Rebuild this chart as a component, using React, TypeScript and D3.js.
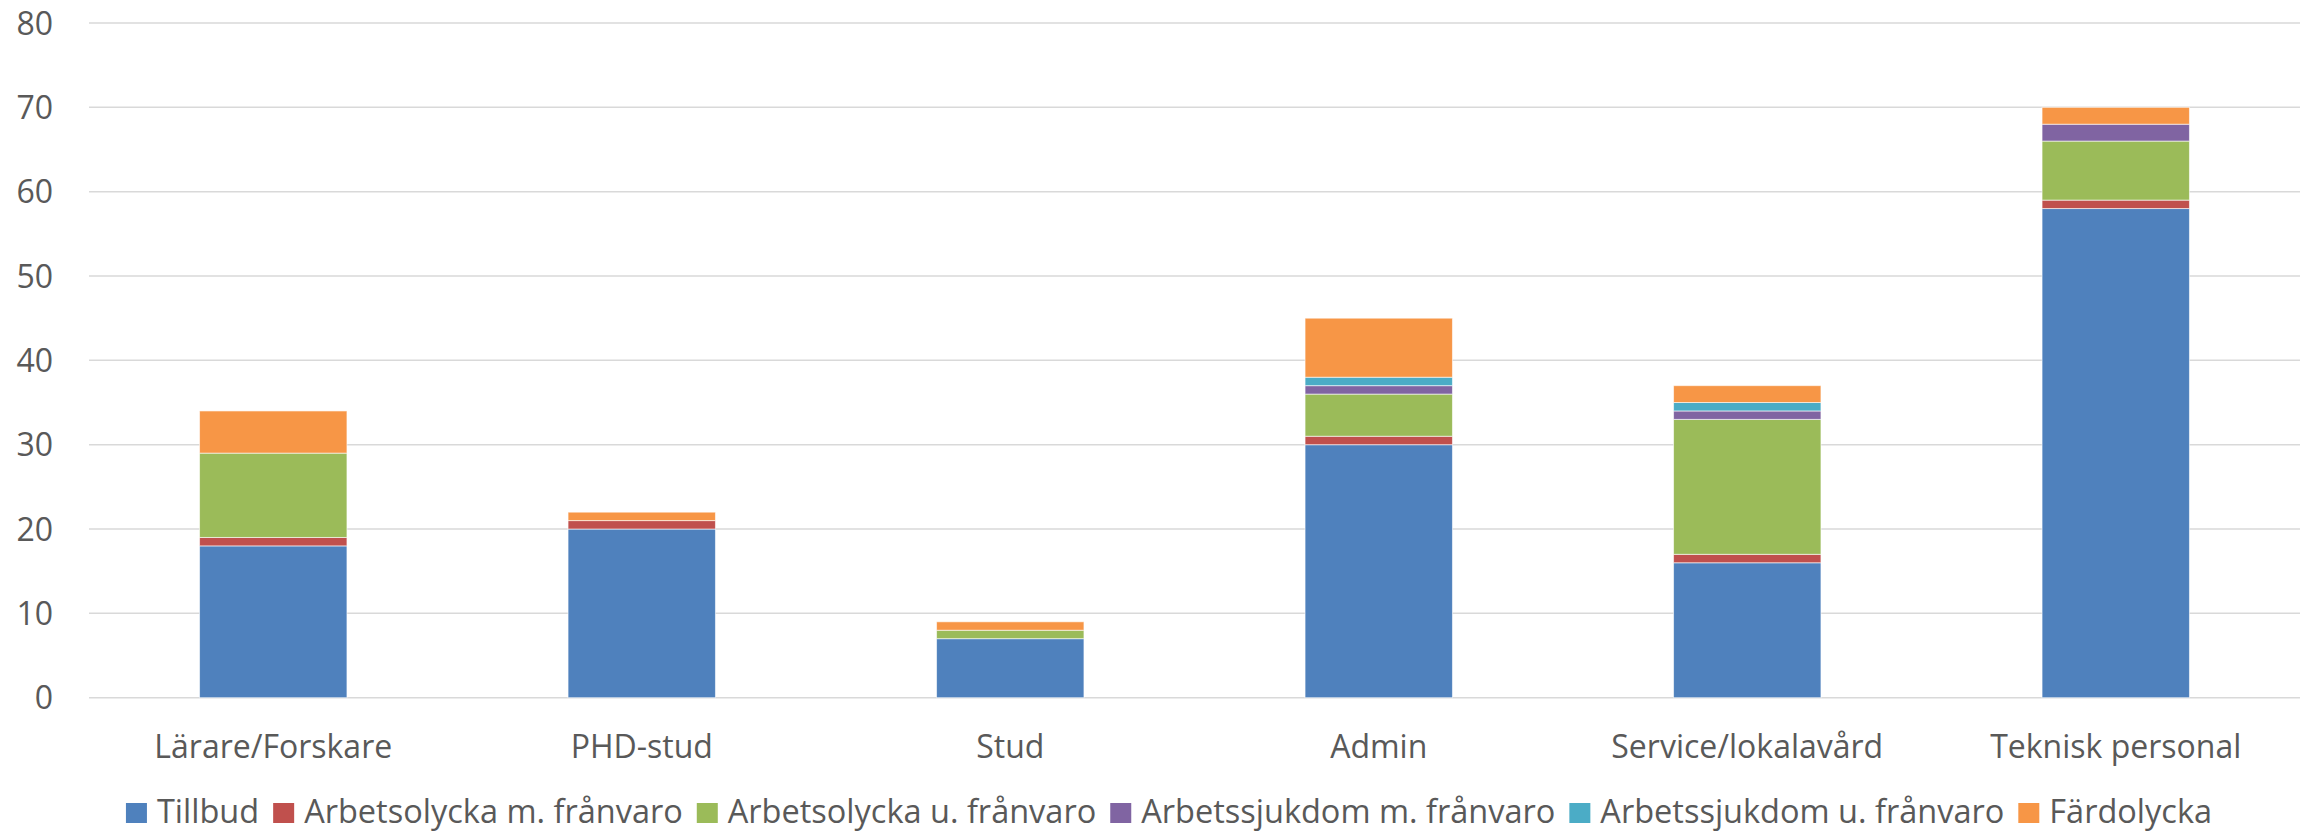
import { useLayoutEffect, useRef, useState } from 'react';
import * as d3 from 'd3';

const categories = ['Lärare/Forskare', 'PHD-stud', 'Stud', 'Admin', 'Service/lokalavård', 'Teknisk personal'];
const seriesNames = [
  'Tillbud',
  'Arbetsolycka m. frånvaro',
  'Arbetsolycka u. frånvaro',
  'Arbetssjukdom m. frånvaro',
  'Arbetssjukdom u. frånvaro',
  'Färdolycka',
];
const tillbud = [18, 20, 7, 30, 16, 58];
const arbOlyckaMed = [1, 1, 0, 1, 1, 1];
const arbOlyckaUtan = [10, 0, 1, 5, 16, 7];
const arbSjukMed = [0, 0, 0, 1, 1, 2];
const arbSjukUtan = [0, 0, 0, 1, 1, 0];
const fardolycka = [5, 1, 1, 7, 2, 2];
const yTicks = [0, 10, 20, 30, 40, 50, 60, 70, 80];

const colors = ['#4F81BD', '#C0504D', '#9BBB59', '#8064A2', '#4BACC6', '#F79646'];

const W = 2303;
const H = 832;
const plot = { left: 89, right: 2300, top: 23, bottom: 697.7 };
const font = '"Open Sans", Arial, sans-serif';
const textColor = '#595959';

export default function App() {
  const legendRef = useRef<SVGGElement>(null);
  const [widths, setWidths] = useState<number[]>([]);

  const values = [tillbud, arbOlyckaMed, arbOlyckaUtan, arbSjukMed, arbSjukUtan, fardolycka];
  const rows = categories.map((c, i) => {
    const r: Record<string, number | string> = { cat: c };
    seriesNames.forEach((s, j) => (r[s] = values[j][i]));
    return r;
  });
  const stacked = d3.stack<Record<string, number | string>>().keys(seriesNames)(rows);

  const x = d3.scaleBand().domain(categories).range([plot.left, plot.right]).paddingInner(0.6).paddingOuter(0.3);
  const y = d3.scaleLinear().domain([0, 80]).range([plot.bottom, plot.top]);

  useLayoutEffect(() => {
    if (!legendRef.current) return;
    const texts = Array.from(legendRef.current.querySelectorAll('text')) as SVGTextElement[];
    setWidths(texts.map(t => t.getComputedTextLength()));
  }, []);

  // legend layout: square, gap, text, gap
  const sq = 21;
  const sqGap = 10;
  const itemGap = 14;
  const total = widths.length
    ? widths.reduce((a, w) => a + sq + sqGap + w, 0) + itemGap * (widths.length - 1)
    : 0;
  let cursor = 1169 - total / 2;
  const legendX = seriesNames.map((_, i) => {
    const pos = cursor;
    cursor += sq + sqGap + (widths[i] || 0) + itemGap;
    return pos;
  });

  return (
    <svg width={W} height={H} style={{ position: 'absolute', left: 0, top: 0, background: '#fff' }} fontFamily={font}>
      <g className="grid">
        {yTicks.map(t => (
          <line key={t} x1={plot.left} x2={plot.right} y1={y(t)} y2={y(t)} stroke="#d9d9d9" strokeWidth={1.5} />
        ))}
      </g>
      <g className="y-labels">
        {yTicks.map(t => (
          <text key={t} x={53} y={y(t)} dy="0.36em" textAnchor="end" fontSize={32} fill={textColor}>
            {t}
          </text>
        ))}
      </g>
      <g className="bars">
        {stacked.map((layer, j) => (
          <g key={layer.key} fill={colors[j]}>
            {layer.map((d, i) =>
              d[1] - d[0] > 0 ? (
                <rect
                  key={i}
                  x={x(categories[i])}
                  width={x.bandwidth()}
                  y={y(d[1])}
                  height={y(d[0]) - y(d[1])}
                  stroke="#ffffff"
                  strokeOpacity={0.6}
                  strokeWidth={1}
                />
              ) : null,
            )}
          </g>
        ))}
      </g>
      <g className="x-labels">
        {categories.map(c => (
          <text key={c} x={(x(c) as number) + x.bandwidth() / 2} y={758} textAnchor="middle" fontSize={32} fill={textColor}>
            {c}
          </text>
        ))}
      </g>
      <g className="legend" ref={legendRef} style={{ visibility: widths.length ? 'visible' : 'hidden' }}>
        {seriesNames.map((s, i) => (
          <g key={s} transform={`translate(${legendX[i]}, 0)`}>
            <rect x={0} y={803} width={sq} height={sq - 1} fill={colors[i]} />
            <text x={sq + sqGap} y={823} fontSize={32.5} fill={textColor}>
              {s}
            </text>
          </g>
        ))}
      </g>
    </svg>
  );
}
